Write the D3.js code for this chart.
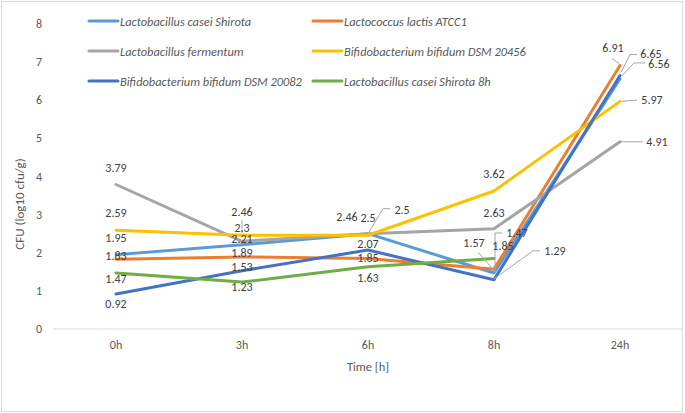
<!DOCTYPE html>
<html>
<head>
<meta charset="utf-8">
<script src="https://cdn.jsdelivr.net/npm/d3@7"></script>
<style>
  body { margin: 0; background: #fff; }
  svg { display: block; font-family: Carlito, Calibri, Lato, sans-serif; }
</style>
</head>
<body>
<svg id="chart" width="685" height="413"></svg>
<script>
const times = ['0h', '3h', '6h', '8h', '24h'];
const yTicks = [0, 1, 2, 3, 4, 5, 6, 7, 8];

const seriesNames = [
  'Lactobacillus casei Shirota',
  'Lactococcus lactis ATCC1',
  'Lactobacillus fermentum',
  'Bifidobacterium bifidum DSM 20456',
  'Bifidobacterium bifidum DSM 20082',
  'Lactobacillus casei Shirota 8h'
];
const caseiShirota = [1.95, 2.21, 2.5, 1.47, 6.56];
const lactisATCC1 = [1.83, 1.89, 1.85, 1.57, 6.91];
const fermentum = [3.79, 2.3, 2.5, 2.63, 4.91];
const bifidum20456 = [2.59, 2.46, 2.46, 3.62, 5.97];
const bifidum20082 = [0.92, 1.53, 2.07, 1.29, 6.65];
const caseiShirota8h = [1.47, 1.23, 1.63, 1.85, null];

const seriesValues = [caseiShirota, lactisATCC1, fermentum, bifidum20456, bifidum20082, caseiShirota8h];
const colors = ['#5B9BD5', '#ED7D31', '#A5A5A5', '#FFC000', '#4472C4', '#70AD47'];

// label placement (offset from the point) and optional leader line, per series / time index
const labelPos = [
  [[0, -17], [0, -6], [34, -24, [[0, 0], [15, -25], [22, -25]]], [23, -40, [[1, -1], [1, -40], [8, -40]]], [39, -15, [[2, -3], [14, -16], [25, -16]]]],
  [[0, -3], [0, -4], [0, 0], [-20, -26, [[-1, 0], [-16, -17]]], [-7, -18, [[-1, -2], [-8, -7]]]],
  [[0, -17], [0, -13], [0, -16], [0, -16], [37, 0, [[1, 0], [23, 0]]]],
  [[0, -17], [0, -23, [[0, -2], [0, -15]]], [-21, -18], [0, -17], [32, -1, [[2, 0], [10, -1], [17, -1]]]],
  [[0, 10], [0, -4], [0, -6], [61, -29, [[0, -1], [39, -29], [46, -29]]], [31, -21, [[1, -3], [10, -21], [17, -21]]]],
  [[0, 6], [0, 5], [0, 11], [9, -12], null]
];

const svg = d3.select('#chart');

// outer chart border
svg.append('rect')
  .attr('x', 1.5).attr('y', 1.5)
  .attr('width', 681).attr('height', 410)
  .attr('fill', '#fff')
  .attr('stroke', '#D9D9D9');

const x = d3.scaleBand().domain(times).range([53, 683]).padding(0);
const y = d3.scaleLinear().domain([0, 8]).range([329, 24]);
const cx = t => x(t) + x.bandwidth() / 2;

// baseline
svg.append('line')
  .attr('x1', 53).attr('x2', 683)
  .attr('y1', y(0)).attr('y2', y(0))
  .attr('stroke', '#D9D9D9').attr('stroke-width', 1);

// y tick labels
svg.append('g').selectAll('text')
  .data(yTicks)
  .join('text')
  .attr('x', 42).attr('y', d => y(d))
  .attr('text-anchor', 'end')
  .attr('dominant-baseline', 'central')
  .attr('fill', '#595959')
  .attr('font-size', 12)
  .text(d => d);

// x tick labels
svg.append('g').selectAll('text')
  .data(times)
  .join('text')
  .attr('x', d => cx(d)).attr('y', 345)
  .attr('text-anchor', 'middle')
  .attr('dominant-baseline', 'central')
  .attr('fill', '#595959')
  .attr('font-size', 12)
  .text(d => d);

svg.append('text')
  .attr('x', 368).attr('y', 366)
  .attr('text-anchor', 'middle')
  .attr('dominant-baseline', 'central')
  .attr('fill', '#595959')
  .attr('font-size', 12.5)
  .text('Time [h]');

svg.append('text')
  .attr('transform', 'translate(19,204) rotate(-90)')
  .attr('text-anchor', 'middle')
  .attr('dominant-baseline', 'central')
  .attr('fill', '#595959')
  .attr('font-size', 13)
  .text('CFU (log10 cfu/g)');

// lines
const line = d3.line()
  .defined(d => d.v != null)
  .x(d => cx(d.t))
  .y(d => y(d.v));

const seriesData = seriesValues.map((vals, i) => ({
  i,
  points: vals.map((v, j) => ({ t: times[j], v }))
}));

svg.append('g').selectAll('path')
  .data(seriesData)
  .join('path')
  .attr('d', d => line(d.points))
  .attr('fill', 'none')
  .attr('stroke', d => colors[d.i])
  .attr('stroke-width', 3)
  .attr('stroke-linejoin', 'round')
  .attr('stroke-linecap', 'round');

// data labels + leader lines
const labels = [];
seriesData.forEach(s => {
  s.points.forEach((p, j) => {
    if (p.v == null) return;
    const lp = labelPos[s.i][j];
    if (!lp) return;
    labels.push({ px: cx(p.t), py: y(p.v), v: p.v, dx: lp[0], dy: lp[1], leader: lp[2] });
  });
});

svg.append('g').selectAll('polyline')
  .data(labels.filter(d => d.leader))
  .join('polyline')
  .attr('points', d => d.leader.map(o => [d.px + o[0], d.py + o[1]].join(',')).join(' '))
  .attr('fill', 'none')
  .attr('stroke', '#A6A6A6')
  .attr('stroke-width', 1);

svg.append('g').selectAll('text')
  .data(labels)
  .join('text')
  .attr('x', d => d.px + d.dx)
  .attr('y', d => d.py + d.dy)
  .attr('text-anchor', 'middle')
  .attr('dominant-baseline', 'central')
  .attr('fill', '#404040')
  .attr('font-size', 12)
  .text(d => d.v);

// legend
const legendCols = [89, 313];
const legendRows = [21, 51, 81];
const legend = svg.append('g').selectAll('g')
  .data(seriesNames)
  .join('g')
  .attr('transform', (d, i) => `translate(${legendCols[i % 2]},${legendRows[Math.floor(i / 2)]})`);

legend.append('line')
  .attr('x1', 0).attr('x2', 29)
  .attr('stroke', (d, i) => colors[i])
  .attr('stroke-width', 3)
  .attr('stroke-linecap', 'round');

legend.append('text')
  .attr('x', 31)
  .attr('dominant-baseline', 'central')
  .attr('fill', '#595959')
  .attr('font-size', 12.4)
  .attr('font-style', 'italic')
  .text(d => d);
</script>
</body>
</html>
